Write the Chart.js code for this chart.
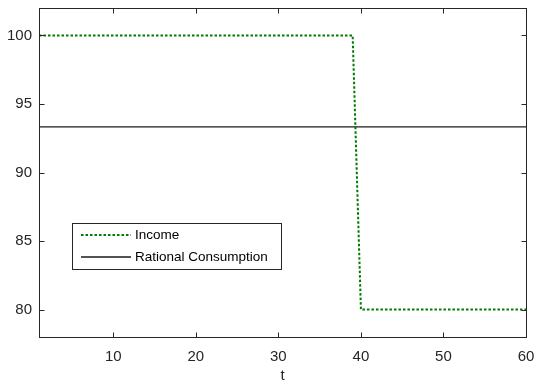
<!DOCTYPE html>
<html lang="en">
<head>
  <meta charset="UTF-8">
  <title>Income vs Rational Consumption</title>
  <script src="https://cdn.jsdelivr.net/npm/chart.js"></script>
  <style>
    body { margin: 0; background: #ffffff; }
    #wrap { width: 536px; height: 386px; }
  </style>
</head>
<body>
  <div id="wrap"><canvas id="chart" width="536" height="386"></canvas></div>

  <script>
    // data
    const periods = [
      1, 2, 3, 4, 5, 6, 7, 8, 9, 10, 11, 12, 13, 14, 15, 16, 17, 18, 19, 20,
      21, 22, 23, 24, 25, 26, 27, 28, 29, 30, 31, 32, 33, 34, 35, 36, 37, 38, 39, 40,
      41, 42, 43, 44, 45, 46, 47, 48, 49, 50, 51, 52, 53, 54, 55, 56, 57, 58, 59, 60
    ];
    const income = [
      100, 100, 100, 100, 100, 100, 100, 100, 100, 100, 100, 100, 100, 100, 100, 100, 100, 100, 100, 100,
      100, 100, 100, 100, 100, 100, 100, 100, 100, 100, 100, 100, 100, 100, 100, 100, 100, 100, 100, 80,
      80, 80, 80, 80, 80, 80, 80, 80, 80, 80, 80, 80, 80, 80, 80, 80, 80, 80, 80, 80
    ];
    const consumption = [
      93.33, 93.33, 93.33, 93.33, 93.33, 93.33, 93.33, 93.33, 93.33, 93.33, 93.33, 93.33, 93.33, 93.33, 93.33,
      93.33, 93.33, 93.33, 93.33, 93.33, 93.33, 93.33, 93.33, 93.33, 93.33, 93.33, 93.33, 93.33, 93.33, 93.33,
      93.33, 93.33, 93.33, 93.33, 93.33, 93.33, 93.33, 93.33, 93.33, 93.33, 93.33, 93.33, 93.33, 93.33, 93.33,
      93.33, 93.33, 93.33, 93.33, 93.33, 93.33, 93.33, 93.33, 93.33, 93.33, 93.33, 93.33, 93.33, 93.33, 93.33
    ];
    const xTicks = [10, 20, 30, 40, 50, 60];
    const yTicks = [80, 85, 90, 95, 100];
    const seriesNames = ['Income', 'Rational Consumption'];

    const axisColor = '#262626';
    const fontFamily = "'Liberation Sans', Arial, sans-serif";

    // box, inward tick marks and the legend, matlab style
    const matlabAxes = {
      id: 'matlabAxes',
      afterDraw(chart) {
        const ctx = chart.ctx;
        const a = chart.chartArea;
        const xs = chart.scales.x, ys = chart.scales.y;
        const L = Math.round(a.left) + 0.5, R = Math.round(a.right) + 0.5;
        const T = Math.round(a.top) + 0.5, B = Math.round(a.bottom) + 0.5;
        ctx.save();
        ctx.strokeStyle = axisColor;
        ctx.lineWidth = 1;
        ctx.strokeRect(L, T, R - L, B - T);
        ctx.beginPath();
        xTicks.forEach(v => {
          const px = Math.round(xs.getPixelForValue(v)) + 0.5;
          ctx.moveTo(px, B); ctx.lineTo(px, B - 5);
          ctx.moveTo(px, T); ctx.lineTo(px, T + 5);
        });
        yTicks.forEach(v => {
          const py = Math.round(ys.getPixelForValue(v)) + 0.5;
          ctx.moveTo(L, py); ctx.lineTo(L + 5, py);
          ctx.moveTo(R, py); ctx.lineTo(R - 5, py);
        });
        ctx.stroke();

        // legend box
        const lx = 72.5, ly = 223.5, lw = 209, lh = 46;
        ctx.fillStyle = '#ffffff';
        ctx.fillRect(lx, ly, lw, lh);
        ctx.strokeStyle = axisColor;
        ctx.strokeRect(lx, ly, lw, lh);
        const ds = chart.data.datasets;
        const rows = [235, 257];
        ctx.font = '13.5px ' + fontFamily;
        ctx.textBaseline = 'middle';
        ds.forEach((d, i) => {
          ctx.beginPath();
          ctx.strokeStyle = d.borderColor;
          ctx.lineWidth = d.borderWidth;
          ctx.setLineDash(d.borderDash || []);
          ctx.moveTo(81, rows[i]);
          ctx.lineTo(131, rows[i]);
          ctx.stroke();
          ctx.setLineDash([]);
          ctx.fillStyle = '#000000';
          ctx.fillText(seriesNames[i], 135, rows[i]);
        });
        ctx.restore();
      }
    };

    const ctx = document.getElementById('chart').getContext('2d');
    const chart = new Chart(ctx, {
      type: 'line',
      data: {
        datasets: [{
          label: seriesNames[0],
          data: periods.map((t, i) => ({ x: t, y: income[i] })),
          borderColor: '#007a00',
          borderWidth: 2,
          borderDash: [2.5, 2],
          pointRadius: 0,
          tension: 0,
          fill: false
        }, {
          label: seriesNames[1],
          data: periods.map((t, i) => ({ x: t, y: consumption[i] })),
          borderColor: '#1a1a1a',
          borderWidth: 1.3,
          pointRadius: 0,
          tension: 0,
          fill: false
        }]
      },
      options: {
        responsive: false,
        animation: false,
        layout: { padding: { top: 8, right: 10, left: 0, bottom: 0 } },
        plugins: {
          legend: { display: false },
          tooltip: { enabled: false }
        },
        scales: {
          x: {
            type: 'linear',
            min: 1,
            max: 60,
            afterBuildTicks: s => { s.ticks = xTicks.map(v => ({ value: v })); },
            afterFit: s => { s.height = 49; s.paddingLeft = 0; s.paddingRight = 0; },
            grid: { display: false, drawTicks: false },
            border: { display: false },
            ticks: { color: axisColor, font: { size: 15, family: fontFamily }, padding: 11, maxRotation: 0 },
            title: { display: true, text: 't', color: axisColor, font: { size: 15, family: fontFamily }, padding: { top: 0, bottom: 1 } }
          },
          y: {
            type: 'linear',
            min: 78,
            max: 102,
            afterBuildTicks: s => { s.ticks = yTicks.map(v => ({ value: v })); },
            afterFit: s => { s.width = 39; s.paddingTop = 0; s.paddingBottom = 0; },
            grid: { display: false, drawTicks: false },
            border: { display: false },
            ticks: { color: axisColor, font: { size: 15, family: fontFamily }, padding: 7 }
          }
        }
      },
      plugins: [matlabAxes]
    });
  </script>
</body>
</html>
